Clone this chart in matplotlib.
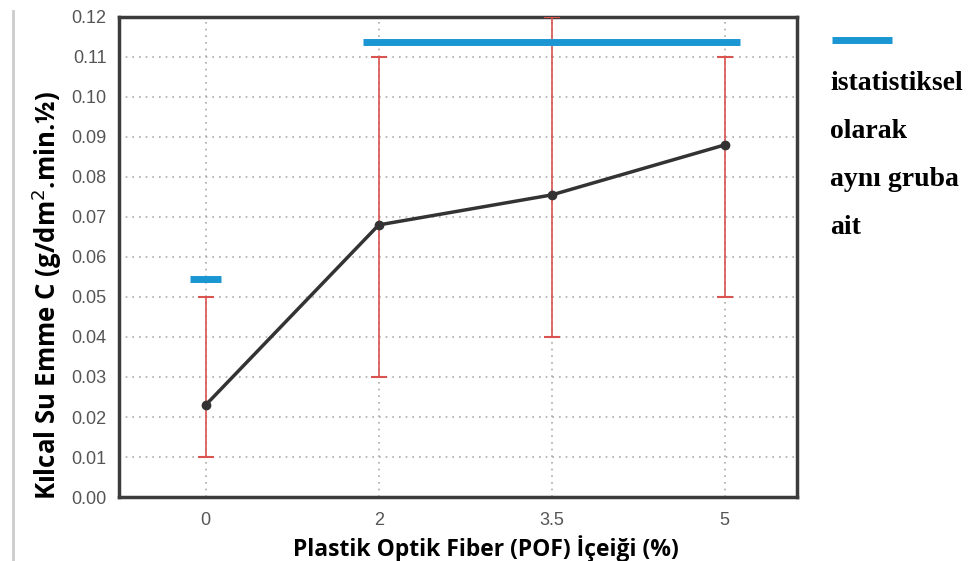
import matplotlib
matplotlib.use("Agg")
import matplotlib.pyplot as plt
import numpy as np

# POF content (%) and capillary water absorption values
categories = ["0", "2", "3.5", "5"]
means = [0.023, 0.068, 0.0755, 0.088]
err_low = [0.010, 0.030, 0.040, 0.050]
err_high = [0.050, 0.110, 0.120, 0.110]

# statistical groups: (from index, to index, y level)
groups = [(0, 0, 0.0545), (1, 3, 0.1137)]

yticks = [0.00, 0.01, 0.02, 0.03, 0.04, 0.05, 0.06, 0.07, 0.08, 0.09, 0.10, 0.11, 0.12]
legend_lines = ["istatistiksel", "olarak", "aynı gruba", "ait"]

fig = plt.figure(figsize=(9.69, 5.61), dpi=100)
ax = fig.add_axes([0.123, 0.114, 0.700, 0.856])

x = np.arange(len(categories))
lower = np.array(means) - np.array(err_low)
upper = np.array(err_high) - np.array(means)

ax.errorbar(x, means, yerr=[lower, upper], fmt="none", ecolor="#d9534f",
	elinewidth=1.2, capsize=5.5, capthick=1.5, zorder=3)
ax.plot(x, means, "-o", color="#333333", lw=2.5, ms=6, zorder=4)

for i0, i1, y in groups:
	ax.plot([x[i0] - 0.09, x[i1] + 0.09], [y, y], color="#1a96d2", lw=5,
		solid_capstyle="butt", zorder=5)

ax.set_xlim(-0.5, 3.42)
ax.set_ylim(0, 0.12)
ax.set_xticks(x)
ax.set_xticklabels(categories)
ax.set_yticks(yticks)
ax.set_yticklabels(["%.2f" % v for v in yticks])
ax.tick_params(length=0, labelsize=13, labelcolor="#555555")
ax.tick_params(axis="x", pad=11)
ax.tick_params(axis="y", pad=9)
for lab in ax.get_xticklabels() + ax.get_yticklabels():
	lab.set_family("Liberation Sans")

ax.grid(True, ls=(0, (1, 3)), color="#aaaaaa", lw=1.2)
ax.set_axisbelow(True)
for s in ax.spines.values():
	s.set_linewidth(2.5)
	s.set_color("#3c3c3c")

ax.set_xlabel("Plastik Optik Fiber (POF) İçeiği (%)", fontsize=16.5, fontweight="bold",
	family="Open Sans", labelpad=4)
ax.xaxis.label.set_x(0.54)
ax.set_ylabel("Kılcal Su Emme C (g/dm$^2$.min.½)", fontsize=18.5, fontweight="bold",
	family="Open Sans", labelpad=5)
ax.yaxis.label.set_y(0.42)

# legend drawn outside the axes
fig.add_artist(plt.Line2D([0.859, 0.921], [0.929, 0.929], color="#1a96d2", lw=5,
	solid_capstyle="butt", transform=fig.transFigure))
for i, t in enumerate(legend_lines):
	fig.text(0.857, 0.852 - i * 0.086, t, fontsize=20, fontweight="bold",
		family="Liberation Serif", va="center", ha="left")

# thin border at the left edge
fig.add_artist(plt.Line2D([0.013, 0.013], [0.0, 0.98], color="#cccccc", lw=2,
	transform=fig.transFigure))

fig.savefig("out.png", dpi=100)
